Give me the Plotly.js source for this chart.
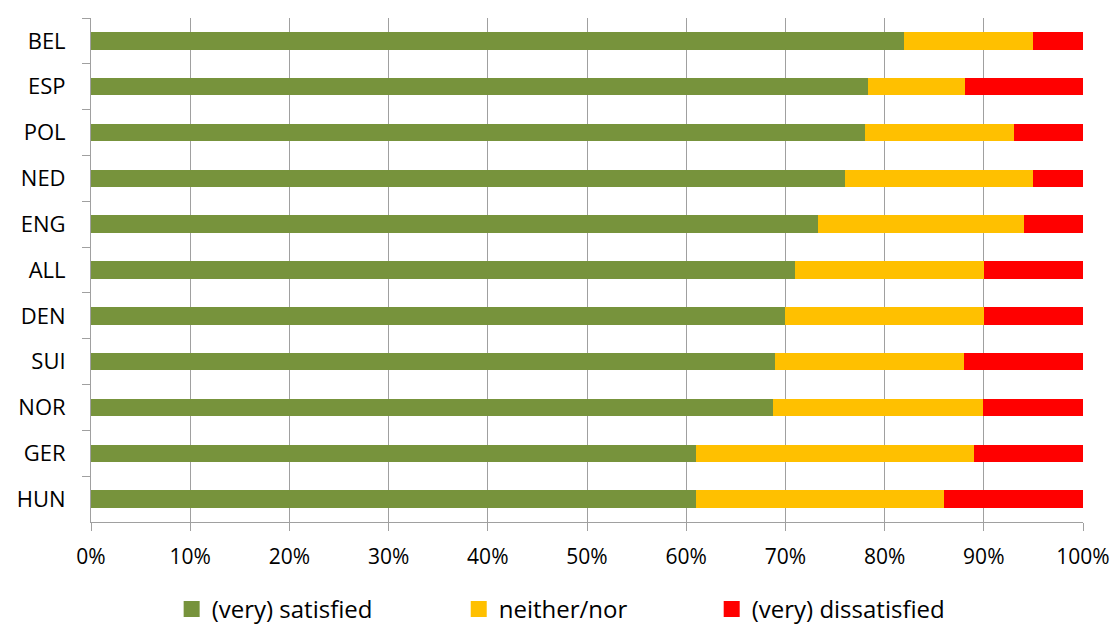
<!DOCTYPE html>
<html>
<head>
<meta charset="utf-8">
<script src="https://cdn.plot.ly/plotly-3.0.1.min.js"></script>
<style>
  html, body { margin: 0; padding: 0; background: #ffffff; }
  #chart { width: 1114px; height: 626px; }
</style>
</head>
<body>
<div id="chart"></div>
<script>
// Countries, listed top to bottom
const countries = ['BEL', 'ESP', 'POL', 'NED', 'ENG', 'ALL', 'DEN', 'SUI', 'NOR', 'GER', 'HUN'];

// Share of answers per country (percent)
const satisfied    = [82, 78.3, 78, 76, 73.3, 71, 70, 69, 68.7, 61, 61];
const neitherNor   = [13, 9.8, 15, 19, 20.8, 19, 20, 19, 21.2, 28, 25];
const dissatisfied = [5, 11.9, 7, 5, 5.9, 10, 10, 12, 10.1, 11, 14];

const seriesNames = ['(very) satisfied', 'neither/nor', '(very) dissatisfied'];
const seriesColors = ['#77933C', '#FFC000', '#FF0000'];

const xTickValues = [0, 10, 20, 30, 40, 50, 60, 70, 80, 90, 100];

const FONT = '"Open Sans", "Noto Sans", sans-serif';
const GRID = '#a0a0a0';

const seriesValues = [satisfied, neitherNor, dissatisfied];
const legendIds = ['legend', 'legend2', 'legend3'];

const traces = seriesValues.map((vals, i) => ({
  type: 'bar',
  orientation: 'h',
  name: seriesNames[i],
  y: countries,
  x: vals,
  marker: { color: seriesColors[i], line: { width: 0 } },
  legend: legendIds[i],
  hoverinfo: 'skip'
}));

// One legend per series so each entry can sit at its own spot on the bottom row
function legendAt(xPos) {
  return {
    orientation: 'h',
    x: xPos,
    xanchor: 'left',
    xref: 'paper',
    y: -0.1735,
    yanchor: 'middle',
    yref: 'paper',
    bgcolor: 'rgba(0,0,0,0)',
    borderwidth: 0,
    font: { family: FONT, size: 24, color: '#000000' }
  };
}

const layout = {
  width: 1114,
  height: 626,
  margin: { l: 91, r: 31, t: 18, b: 104, autoexpand: false },
  paper_bgcolor: '#ffffff',
  plot_bgcolor: '#ffffff',
  barmode: 'stack',
  bargap: 0.62,
  font: { family: FONT, size: 21, color: '#000000' },
  xaxis: {
    range: [0, 100],
    tickvals: xTickValues,
    ticktext: xTickValues.map(v => v + '%'),
    showgrid: true,
    gridcolor: GRID,
    gridwidth: 1,
    zeroline: false,
    showline: true,
    linecolor: GRID,
    linewidth: 1,
    ticks: 'outside',
    ticklen: 8,
    tickcolor: GRID,
    tickwidth: 1,
    ticklabelstandoff: 8,
    tickfont: { family: FONT, size: 21, color: '#000000' },
    fixedrange: true
  },
  yaxis: {
    type: 'category',
    categoryorder: 'array',
    categoryarray: countries,
    autorange: 'reversed',
    showgrid: false,
    zeroline: false,
    showline: true,
    linecolor: GRID,
    linewidth: 1,
    ticks: 'outside',
    tickson: 'boundaries',
    ticklen: 8,
    tickcolor: GRID,
    tickwidth: 1,
    ticklabelstandoff: 20,
    tickfont: { family: FONT, size: 22, color: '#000000' },
    fixedrange: true
  },
  legend: legendAt(0.0813),
  legend2: legendAt(0.3707),
  legend3: legendAt(0.6257),
  showlegend: true
};

// Make the square legend swatches a little larger (16px)
function enlargeSwatches() {
  document.querySelectorAll('.legendpoints path').forEach(p => {
    p.setAttribute('d', 'M8,8H-8V-8H8Z');
  });
}

Plotly.newPlot('chart', traces, layout, { displayModeBar: false, staticPlot: true })
  .then(gd => {
    enlargeSwatches();
    gd.on('plotly_afterplot', enlargeSwatches);
  });
</script>
</body>
</html>
